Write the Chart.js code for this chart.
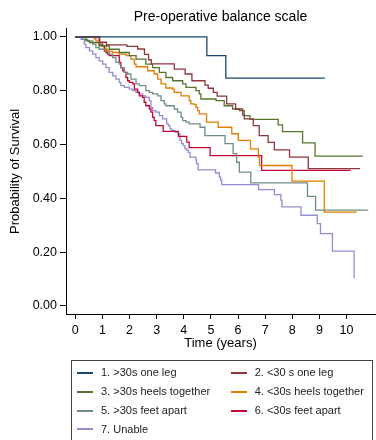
<!DOCTYPE html>
<html>
<head>
<meta charset="utf-8">
<script src="https://cdn.jsdelivr.net/npm/chart.js@4.4.1/dist/chart.umd.min.js"></script>
<style>
  body { margin: 0; background: #fff; font-family: "Liberation Sans", Arial, sans-serif; }
  #wrap { position: relative; width: 376px; height: 440px; overflow: hidden; }
  #legend {
    position: absolute; left: 71px; top: 360px; width: 302px; height: 90px;
    border: 1px solid #444; box-sizing: border-box;
  }
  .item { position: absolute; height: 13px; font-size: 11px; line-height: 13px; color: #222; white-space: nowrap; }
  .swatch { position: absolute; left: 0; top: 5.5px; width: 16px; height: 2px; }
  .label { position: absolute; left: 24px; top: 0; }
</style>
</head>
<body>
<div id="wrap">
  <canvas id="kmChart"></canvas>
  <div id="legend"></div>
</div>
<script>
// Group names and colours (Stata s2color order)
const groupLabels = [
  "1. >30s one leg", "2. <30 s one leg", "3. >30s heels together",
  "4. <30s heels together", "5. >30s feet apart", "6. <30s feet apart", "7. Unable"
];
const groupColors = ["#1a476f", "#90353b", "#55752f", "#e37e00", "#6e8e84", "#c10534", "#938dd2"];

// Kaplan-Meier estimates: time (years) and survival after each step
const timeOneLegLong = [0, 4.85, 5.55, 9.2];
const survOneLegLong = [1.0, 0.93, 0.847, 0.847];

const timeOneLegShort = [0, 0.9, 1.15, 1.9, 2.3, 2.55, 2.7, 2.8, 3.65, 4.05, 4.3, 4.78, 4.9, 5.09, 5.23, 5.58, 5.91, 6.17, 6.23, 6.56, 6.78, 7.11, 7.34, 7.9, 8.59, 10.5];
const survOneLegShort = [1.0, 0.98, 0.97, 0.965, 0.955, 0.935, 0.915, 0.90, 0.88, 0.862, 0.837, 0.821, 0.809, 0.794, 0.78, 0.751, 0.732, 0.71, 0.695, 0.67, 0.633, 0.608, 0.58, 0.553, 0.51, 0.51];

const timeHeelsLong = [0, 0.39, 0.52, 0.88, 1.25, 1.62, 1.99, 2.24, 2.6, 2.85, 3.1, 3.34, 3.59, 3.96, 4.08, 4.45, 4.57, 4.63, 5.19, 5.49, 5.8, 6.05, 6.23, 6.44, 7.48, 7.64, 8.38, 8.84, 10.6];
const survHeelsLong = [1.0, 0.985, 0.979, 0.967, 0.954, 0.942, 0.93, 0.917, 0.899, 0.886, 0.868, 0.849, 0.837, 0.825, 0.812, 0.80, 0.788, 0.769, 0.763, 0.744, 0.732, 0.726, 0.707, 0.693, 0.673, 0.648, 0.606, 0.557, 0.557];

const timeHeelsShort = [0, 0.7, 0.76, 0.88, 1.13, 1.19, 1.38, 1.62, 1.87, 2.05, 2.18, 2.24, 2.67, 2.91, 3.04, 3.16, 3.34, 3.59, 3.65, 3.9, 4.2, 4.26, 4.39, 4.45, 4.51, 4.57, 4.84, 5.27, 5.77, 6.01, 6.46, 6.75, 6.79, 7.99, 9.18, 10.38];
const survHeelsShort = [1.0, 0.993, 0.985, 0.967, 0.954, 0.946, 0.942, 0.936, 0.93, 0.917, 0.899, 0.889, 0.874, 0.862, 0.843, 0.825, 0.81, 0.806, 0.794, 0.781, 0.763, 0.751, 0.748, 0.738, 0.726, 0.714, 0.683, 0.664, 0.64, 0.615, 0.584, 0.553, 0.522, 0.464, 0.349, 0.349];

const timeApartLong = [0, 0.27, 0.46, 0.64, 0.76, 0.88, 1.13, 1.25, 1.38, 1.5, 1.62, 1.68, 1.81, 1.93, 2.05, 2.24, 2.36, 2.6, 2.73, 2.85, 3.04, 3.16, 3.28, 3.34, 3.65, 3.77, 3.9, 3.96, 4.08, 4.2, 4.6, 4.78, 5.52, 5.82, 5.95, 6.05, 6.47, 8.56, 8.86, 10.8];
const survApartLong = [1.0, 0.991, 0.985, 0.973, 0.96, 0.954, 0.948, 0.936, 0.923, 0.905, 0.899, 0.886, 0.868, 0.862, 0.843, 0.825, 0.819, 0.80, 0.794, 0.788, 0.781, 0.763, 0.751, 0.744, 0.732, 0.72, 0.701, 0.689, 0.683, 0.677, 0.664, 0.633, 0.603, 0.566, 0.534, 0.497, 0.457, 0.407, 0.356, 0.356];

const timeApartShort = [0, 0.88, 1.01, 1.07, 1.13, 1.19, 1.25, 1.62, 1.68, 1.75, 1.81, 1.87, 1.93, 1.99, 2.12, 2.18, 2.3, 2.36, 2.48, 2.54, 2.6, 2.73, 2.79, 2.85, 2.91, 2.97, 3.24, 3.8, 4.11, 4.2, 4.97, 6.87, 10.15];
const survApartShort = [1.0, 0.973, 0.967, 0.948, 0.942, 0.936, 0.93, 0.905, 0.886, 0.874, 0.868, 0.849, 0.837, 0.831, 0.825, 0.806, 0.794, 0.781, 0.775, 0.757, 0.744, 0.732, 0.72, 0.701, 0.689, 0.67, 0.649, 0.63, 0.609, 0.588, 0.559, 0.504, 0.504];

const timeUnable = [0, 0.21, 0.33, 0.39, 0.52, 0.64, 0.76, 0.88, 1.01, 1.13, 1.25, 1.38, 1.5, 1.62, 1.68, 1.81, 1.99, 2.12, 2.24, 2.36, 2.48, 2.6, 2.73, 2.79, 2.85, 2.97, 3.1, 3.22, 3.37, 3.43, 3.49, 3.55, 3.67, 3.8, 3.86, 3.92, 3.98, 4.04, 4.11, 4.17, 4.23, 4.45, 4.47, 4.53, 5.17, 5.31, 5.36, 5.4, 6.76, 7.34, 7.58, 7.62, 8.32, 8.92, 9.04, 9.48, 10.28];
const survUnable = [1.0, 0.991, 0.973, 0.96, 0.948, 0.936, 0.923, 0.911, 0.899, 0.886, 0.868, 0.855, 0.843, 0.831, 0.819, 0.812, 0.806, 0.80, 0.794, 0.788, 0.781, 0.775, 0.763, 0.738, 0.726, 0.72, 0.707, 0.695, 0.677, 0.67, 0.658, 0.652, 0.646, 0.64, 0.615, 0.603, 0.596, 0.584, 0.578, 0.571, 0.553, 0.541, 0.529, 0.506, 0.494, 0.479, 0.467, 0.451, 0.432, 0.414, 0.393, 0.368, 0.337, 0.306, 0.269, 0.204, 0.103];

// Axis ticks
const xTicks = [0, 1, 2, 3, 4, 5, 6, 7, 8, 9, 10];
const yTicks = [0, 0.2, 0.4, 0.6, 0.8, 1.0];

const curves = [
  [timeOneLegLong, survOneLegLong],
  [timeOneLegShort, survOneLegShort],
  [timeHeelsLong, survHeelsLong],
  [timeHeelsShort, survHeelsShort],
  [timeApartLong, survApartLong],
  [timeApartShort, survApartShort],
  [timeUnable, survUnable],
];

const FONT = '"Liberation Sans", Arial, sans-serif';
Chart.defaults.font.family = FONT;
Chart.defaults.color = "#000";

const datasets = curves.map(([t, s], i) => ({
  label: groupLabels[i],
  data: t.map((x, k) => ({ x, y: s[k] })),
  borderColor: groupColors[i],
  borderWidth: 1.3,
  pointRadius: 0,
  stepped: true,
  fill: false,
}));

// Stata-like axis: black line, outward ticks, no grid inside
function axisStyle(tickLength) {
  return {
    grid: { drawOnChartArea: false, drawTicks: true, tickLength, color: "#000", lineWidth: 1 },
    border: { display: true, color: "#000", width: 1 },
  };
}

new Chart(document.getElementById("kmChart"), {
  type: "line",
  data: { datasets },
  options: {
    responsive: true,
    maintainAspectRatio: false,
    animation: false,
    layout: { padding: { left: 0, right: 1, top: 0, bottom: 80 } },
    plugins: {
      legend: { display: false },
      tooltip: { enabled: false },
      title: {
        display: true,
        text: "Pre-operative balance scale",
        fullSize: false,
        color: "#000",
        font: { size: 14, weight: "normal" },
        padding: { top: 9, bottom: 3 },
      },
    },
    scales: {
      x: {
        type: "linear",
        min: -0.343,
        max: 11.05,
        ...axisStyle(5),
        afterBuildTicks: (scale) => { scale.ticks = xTicks.map((v) => ({ value: v })); },
        afterFit: (scale) => { scale.height = 46; },
        ticks: { font: { size: 12.5 }, padding: 4, maxRotation: 0, autoSkip: false },
        title: { display: true, text: "Time (years)", font: { size: 13 }, padding: { top: 0, bottom: 8.7 } },
      },
      y: {
        type: "linear",
        min: -0.03,
        max: 1.03,
        ...axisStyle(6),
        afterBuildTicks: (scale) => { scale.ticks = yTicks.map((v) => ({ value: v })); },
        afterFit: (scale) => { scale.width = 66; },
        ticks: { font: { size: 12.5 }, padding: 3, callback: (v) => v.toFixed(2) },
        title: { display: true, text: "Probability of Survival", font: { size: 13 }, padding: { top: 8, bottom: 0 } },
      },
    },
  },
});

// Two-column legend box under the plot
const legend = document.getElementById("legend");
groupLabels.forEach((name, i) => {
  const col = i % 2, row = Math.floor(i / 2);
  const item = document.createElement("div");
  item.className = "item";
  item.style.left = (col ? 158.7 : 5) + "px";
  item.style.top = (11.7 + row * 18.9 - 6.5) + "px";
  item.innerHTML = `<span class="swatch" style="background:${groupColors[i]}"></span><span class="label"></span>`;
  item.querySelector(".label").textContent = name;
  legend.appendChild(item);
});
</script>
</body>
</html>
